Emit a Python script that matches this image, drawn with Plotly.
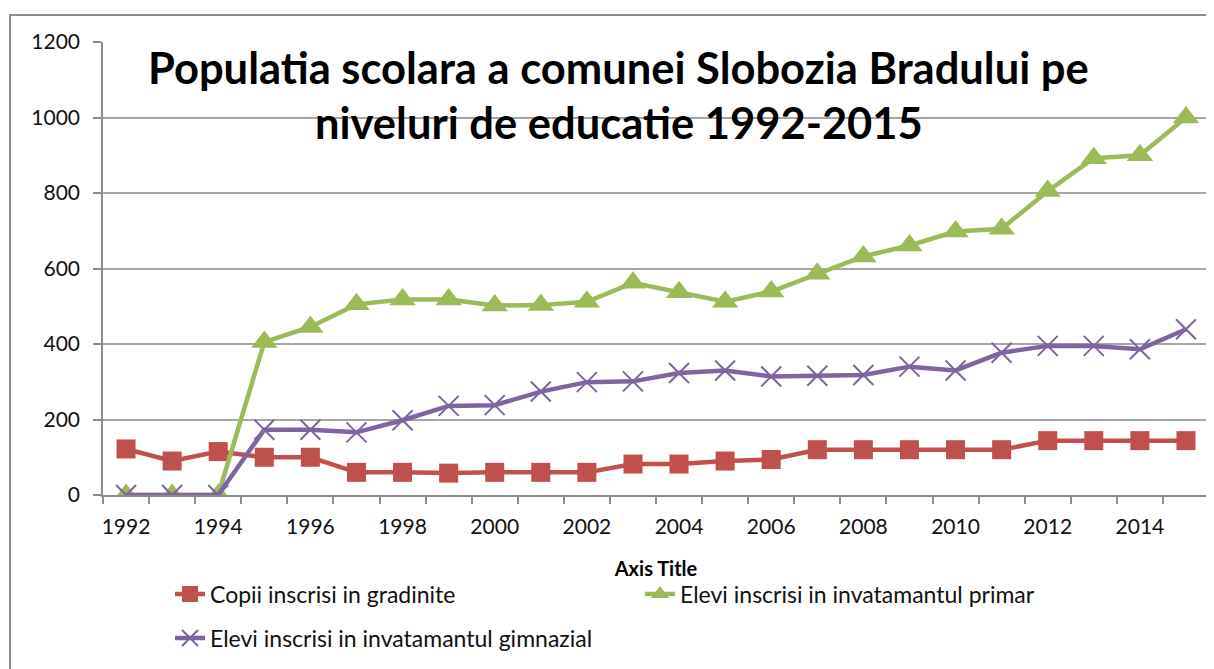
import plotly.graph_objects as go

years = list(range(1992, 2016))
gradinite = [122, 90, 115, 100, 100, 60, 60, 58, 60, 60, 60, 82, 82, 90, 94, 120, 120, 120, 120, 120, 144, 144, 144, 144]
primar = [0, 0, 0, 405, 445, 505, 518, 518, 502, 503, 512, 562, 537, 512, 539, 586, 632, 661, 698, 705, 805, 892, 900, 1000]
gimnazial = [0, 0, 0, 173, 173, 166, 198, 236, 238, 274, 299, 301, 323, 330, 314, 316, 318, 340, 330, 377, 395, 395, 386, 439]

names = ["Copii inscrisi in gradinite", "Elevi inscrisi in invatamantul primar", "Elevi inscrisi in invatamantul gimnazial"]
title_lines = ["Populatia scolara a comunei Slobozia Bradului pe", "niveluri de educatie 1992-2015"]
x_label_years = list(range(1992, 2015, 2))
y_ticks = [0, 200, 400, 600, 800, 1000, 1200]

# page has an 8px body margin: screen coords = figure coords + 8
OFF = 8
W, H = 1214, 669
L, R, T, B = 103 - OFF, W - (1209 - OFF), 42 - OFF, H - (495 - OFF)
pw, ph = W - L - R, H - T - B

def px(x):
    return (x - OFF - L) / pw

def py(y):
    return 1 - (y - OFF - T) / ph

FONT = "Lato, 'Open Sans', sans-serif"
RED, GREEN, PURPLE = "#C0504D", "#9BBB59", "#8064A2"

fig = go.Figure()
fig.add_trace(go.Scatter(x=years, y=gradinite, name=names[0], mode="lines+markers",
                         line=dict(color=RED, width=4.5),
                         marker=dict(symbol="square", size=19, color=RED), legend="legend"))
fig.add_trace(go.Scatter(x=years, y=primar, name=names[1], mode="lines+markers",
                         line=dict(color=GREEN, width=4.5),
                         marker=dict(symbol="triangle-up", size=23, color=GREEN), legend="legend"))
fig.add_trace(go.Scatter(x=years, y=gimnazial, name=names[2], mode="lines+markers",
                         line=dict(color=PURPLE, width=4.5),
                         marker=dict(symbol="x-thin", size=20, color=PURPLE,
                                     line=dict(color=PURPLE, width=2)), legend="legend2"))

fig.update_layout(
    width=W, height=H,
    margin=dict(l=L, r=R, t=T, b=B),
    paper_bgcolor="white", plot_bgcolor="white",
    font=dict(family=FONT, size=20, color="#111"),
    showlegend=True,
    legend=dict(orientation="h", x=px(170), y=py(594), xanchor="left", yanchor="middle",
                entrywidth=425, entrywidthmode="pixels", font=dict(size=23, family=FONT),
                bgcolor="rgba(0,0,0,0)"),
    legend2=dict(orientation="h", x=px(170), y=py(638), xanchor="left", yanchor="middle",
                 font=dict(size=23, family=FONT), bgcolor="rgba(0,0,0,0)"),
    xaxis=dict(range=[1991.5, 2015.5], tickmode="array", tickvals=x_label_years,
               ticktext=[str(v) for v in x_label_years], ticks="", showgrid=False,
               showline=True, linecolor="#8c8c8c", linewidth=1.5, zeroline=False,
               ticklabelstandoff=12,
               tickfont=dict(size=21, family=FONT, color="#111"),
               minor=dict(tickmode="linear", tick0=1991.5, dtick=1, ticks="outside",
                          ticklen=7, tickcolor="#8c8c8c", tickwidth=1.5, showgrid=False),
               title=dict(text="<b>Axis Title</b>", font=dict(size=20, family=FONT, color="#000"),
                          standoff=25)),
    yaxis=dict(range=[0, 1200], tickmode="array", tickvals=y_ticks, ticks="outside",
               ticklen=8, tickcolor="#8c8c8c", tickwidth=1.5,
               showgrid=True, gridcolor="#a6a6a6", gridwidth=1.5,
               showline=True, linecolor="#8c8c8c", linewidth=1.5, zeroline=False,
               ticklabelstandoff=9,
               tickfont=dict(size=21, family=FONT, color="#111")),
)

fig.add_annotation(text="<b>" + title_lines[0] + "</b>", xref="paper", yref="paper",
                   x=px(618.5), y=py(67), xanchor="center", yanchor="middle", showarrow=False,
                   font=dict(size=43.5, family=FONT, color="#000"))
fig.add_annotation(text="<b>" + title_lines[1] + "</b>", xref="paper", yref="paper",
                   x=px(618.5), y=py(122), xanchor="center", yanchor="middle", showarrow=False,
                   font=dict(size=43.5, family=FONT, color="#000"))

fig.add_shape(type="rect", xref="paper", yref="paper",
              x0=px(10), x1=px(1230), y0=py(690), y1=py(15),
              line=dict(color="#8c8c8c", width=2), fillcolor="rgba(0,0,0,0)", layer="below")

fig.write_html("out.html")
